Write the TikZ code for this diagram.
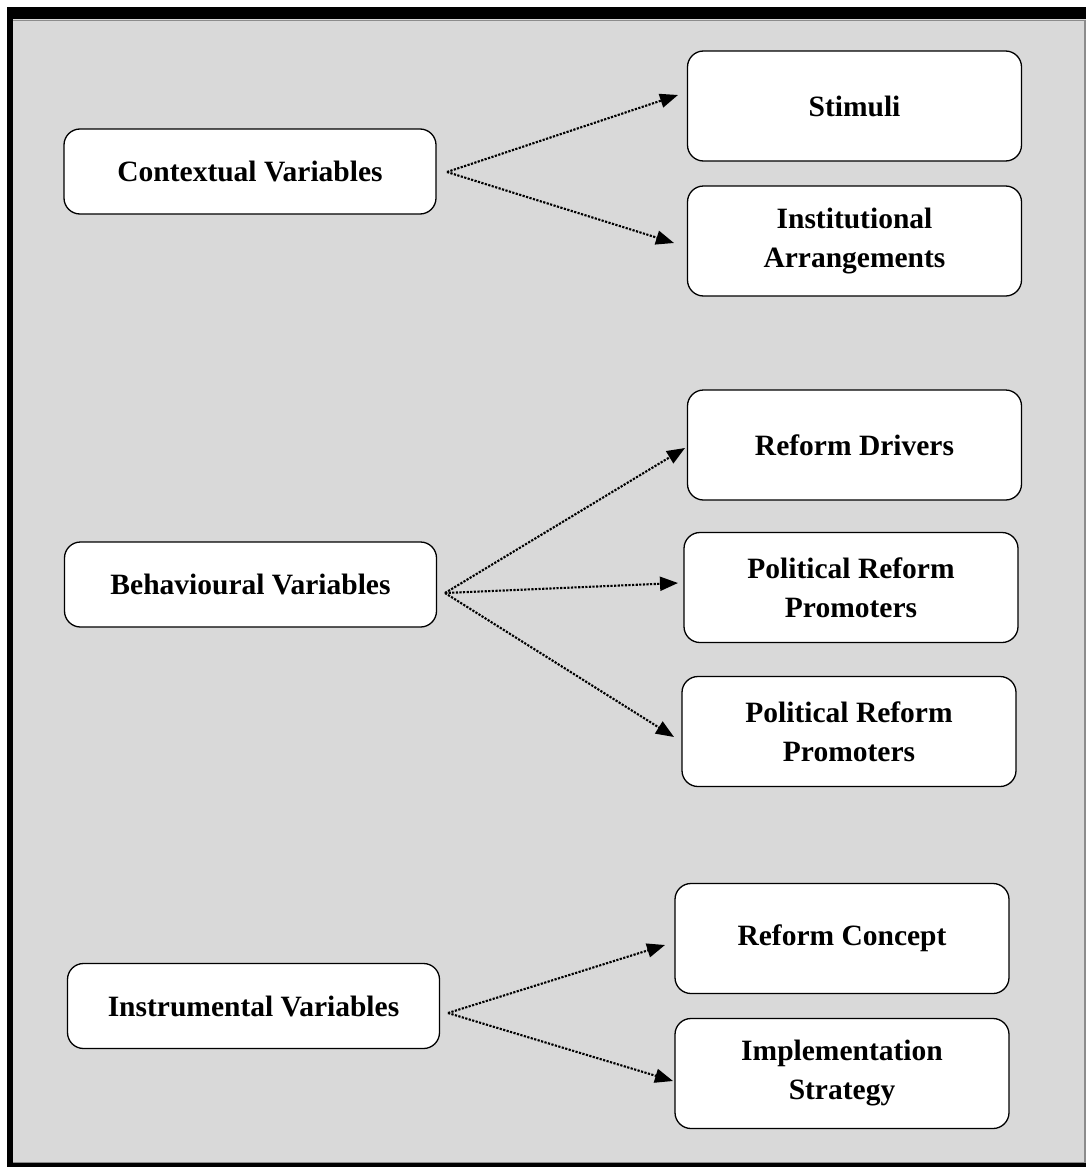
\documentclass[tikz,border=0pt]{standalone}
\usepackage{fontspec}
\setmainfont{Liberation Serif}
\usetikzlibrary{arrows.meta}
\definecolor{panel}{HTML}{D9D9D9}
\definecolor{rimgray}{HTML}{8C8C8C}
\tikzset{
  box/.style={draw=black, line width=1.3pt, fill=white, rounded corners=16pt,
    align=center, inner sep=0pt,
    font=\fontsize{29.5}{39}\selectfont\bfseries},
  leftbox/.style={box, minimum width=372pt, minimum height=85pt},
  rightbox/.style={box, minimum width=334pt, minimum height=110pt},
  link/.style={line width=2.1pt, dash pattern=on 2.2pt off 1.4pt,
    -{Triangle[length=18pt,width=14pt]}},
}
\begin{document}
\begin{tikzpicture}[x=1pt,y=-1pt]
  \useasboundingbox (0,0) rectangle (1086,1167);
  % frame with heavy top/left rule
  \fill[white] (0,0) rectangle (1086,1167);
  \fill[panel] (7,7) rectangle (1086,1167);
  \fill[black] (7,7) rectangle (1086,19);
  \fill[black] (7,7) rectangle (13,1167);
  \fill[black] (7,1163) rectangle (1086,1167);
  \draw[rimgray, line width=1pt] (13,20) -- (1086,20);
  \draw[rimgray, line width=1pt] (13,1162) -- (1086,1162);
  \draw[rimgray, line width=1.5pt] (1085,20) -- (1085,1162);

  % left column
  \node[leftbox] (ctx) at (250,171.5) {Contextual Variables};
  \node[leftbox] (beh) at (250.5,584.5) {Behavioural Variables};
  \node[leftbox] (ins) at (253.5,1006) {Instrumental Variables};

  % right column
  \node[rightbox] (stim) at (854.5,106) {Stimuli};
  \node[rightbox] (inst) at (854.5,241) {Institutional\\Arrangements};
  \node[rightbox] (drv)  at (854.5,445) {Reform Drivers};
  \node[rightbox] (prpa) at (851,587.5) {Political Reform\\Promoters};
  \node[rightbox] (prpb) at (849,731.5) {Political Reform\\Promoters};
  \node[rightbox] (conc) at (842,938.5) {Reform Concept};
  \node[rightbox] (impl) at (842,1073.5) {Implementation\\Strategy};

  % fan-out points and arrow tips
  \coordinate (ctxO) at (447,172);
  \coordinate (behO) at (445,593);
  \coordinate (insO) at (448,1013);
  \coordinate (stimT) at (678,95);
  \coordinate (instT) at (674,243);
  \coordinate (drvT)  at (685,448);
  \coordinate (prpaT) at (678,583);
  \coordinate (prpbT) at (674,737);
  \coordinate (concT) at (665,945);
  \coordinate (implT) at (673,1081);

  \draw[link] (ctxO) -- (stimT);
  \draw[link] (ctxO) -- (instT);
  \draw[link] (behO) -- (drvT);
  \draw[link] (behO) -- (prpaT);
  \draw[link] (behO) -- (prpbT);
  \draw[link] (insO) -- (concT);
  \draw[link] (insO) -- (implT);
\end{tikzpicture}
\end{document}
